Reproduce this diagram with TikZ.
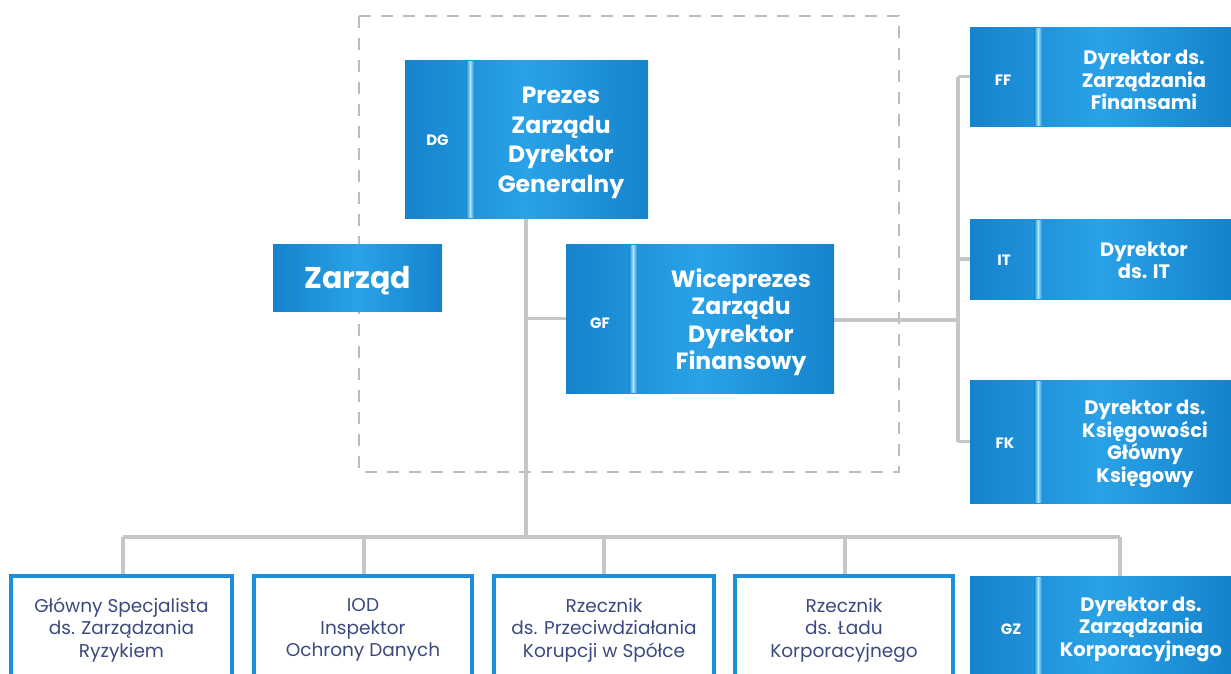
\documentclass[tikz,border=0pt]{standalone}
\usepackage{fontspec}
\setmainfont{Poppins}
\definecolor{bdark}{HTML}{1583CC}
\definecolor{blight}{HTML}{2AA2E7}
\definecolor{bline}{HTML}{1B8FD8}
\definecolor{gline}{HTML}{C6C6C6}
\definecolor{dgray}{HTML}{BDBDBD}
\definecolor{btext}{HTML}{3B4A7E}
\definecolor{glowc}{HTML}{A8E6FF}
\tikzset{
  bbox/.style={draw=none, left color=bdark, right color=bdark, middle color=blight, minimum width=#1},
  wbox/.style={draw=bline, line width=3.5pt, fill=white},
  conn/.style={draw=gline, line width=3.5pt},
  lab/.style={text=white, font=\bfseries\fontsize{15}{17}\selectfont},
  bigt/.style={text=white, align=center, font=\bfseries\fontsize{23.5}{29.7}\selectfont},
  gft/.style={text=white, align=center, font=\bfseries\fontsize{23.5}{27.4}\selectfont},
  medt/.style={text=white, align=center, font=\bfseries\fontsize{19.5}{22.5}\selectfont},
  zart/.style={text=white, font=\bfseries\fontsize{30}{32}\selectfont},
  lowt/.style={text=btext, align=center, font=\fontsize{18.5}{22.5}\selectfont},
  glow/.style={left color=bdark!85!blight, right color=bdark!65!blight, middle color=glowc},
}
\begin{document}
\begin{tikzpicture}[x=1pt, y=-1pt, every node/.style={inner sep=0pt, outer sep=0pt}]
\useasboundingbox (0,0) rectangle (1231,673);
\clip (0,0) rectangle (1231,673);
% dashed group frame
\draw[dgray, line width=1.6pt, dash pattern=on 12pt off 10pt] (359,16) rectangle (899,472);

\path (526.5,139) coordinate (cDG) (700,318.5) coordinate (cGF);

% connectors
\coordinate (bus) at (526,537);
\coordinate (rb) at (958,320);
\coordinate (dgb) at (526,218);
\draw[conn] (dgb) -- (bus);
\draw[conn] (566,318.5) coordinate (gfw) -- (gfw -| dgb);
\draw[conn] (123,537) -- (1120,537);
\foreach \xx in {123,364,604,845,1120} \draw[conn] (\xx,537) -- (\xx,578);
\draw[conn] (834,320) coordinate (gfe) -- (rb);
\draw[conn] (958,76.5) -- (958,441.5);
\foreach \yy in {76.5,259,441.5} \draw[conn] (958,\yy) -- (972,\yy);

% blue boxes
\node[bbox=243pt, minimum height=158pt] (DG) at (cDG) {};
\node[bbox=268pt, minimum height=149pt] (GF) at (cGF) {};
\node[bbox=169pt, minimum height=67pt] (ZR) at (357.5,277.5) {};
\node[bbox=261pt, minimum height=99pt] (FF) at (1100.5,76.5) {};
\node[bbox=261pt, minimum height=80pt] (IT) at (1100.5,259) {};
\node[bbox=261pt, minimum height=123pt] (FK) at (1100.5,441.5) {};
\node[bbox=261pt, minimum height=120pt] (GZ) at (1100.5,636) {};
% white boxes
\node[wbox, minimum width=221pt, minimum height=120pt] (b1) at (121.5,636) {};
\node[wbox, minimum width=218pt, minimum height=120pt] (b2) at (363,636) {};
\node[wbox, minimum width=220pt, minimum height=120pt] (b3) at (604,636) {};
\node[wbox, minimum width=218pt, minimum height=120pt] (b4) at (844,636) {};

% glowing dividers
\fill[glow] (466,61) rectangle (474,217);
\fill[glow] (629,245) rectangle (637,392);
\foreach \ya/\yb in {28/125,220/298,381/502,577/673}
  \fill[glow] (1034,\ya) rectangle (1042,\yb);

% texts
\node[lab] (DGl) at (437.5,140) {DG};
\node[bigt] (DGt) at (561,143) {Prezes\\Zarządu\\Dyrektor\\Generalny};
\node[lab] (GFl) at (600,323) {GF};
\node[gft] (GFt) at (741,322) {Wiceprezes\\Zarządu\\Dyrektor\\Finansowy};
\node[zart] (ZRt) at (357.5,281) {Zarząd};
\node[lab] (FFl) at (1003,80) {FF};
\node[medt] (FFt) at (1144,80) {Dyrektor ds.\\Zarządzania\\Finansami};
\node[lab] (ITl) at (1004,260) {IT};
\node[medt] (ITt) at (1144,260.5) {Dyrektor\\ds. IT};
\node[lab] (FKl) at (1005,443) {FK};
\node[medt] (FKt) at (1145,444) {Dyrektor ds.\\Księgowości\\Główny\\Księgowy};
\node[lab] (GZl) at (1011,629) {GZ};
\node[medt] (GZt) at (1141,629) {Dyrektor ds.\\Zarządzania\\Korporacyjnego};
\node[lowt] (b1t) at (121.5,630) {Główny Specjalista\\ds. Zarządzania\\Ryzykiem};
\node[lowt] (b2t) at (363,630) {IOD\\Inspektor\\Ochrony Danych};
\node[lowt] (b3t) at (604,630) {Rzecznik\\ds. Przeciwdziałania\\Korupcji w Spółce};
\node[lowt] (b4t) at (844,630) {Rzecznik\\ds. Ładu\\Korporacyjnego};
\end{tikzpicture}
\end{document}
